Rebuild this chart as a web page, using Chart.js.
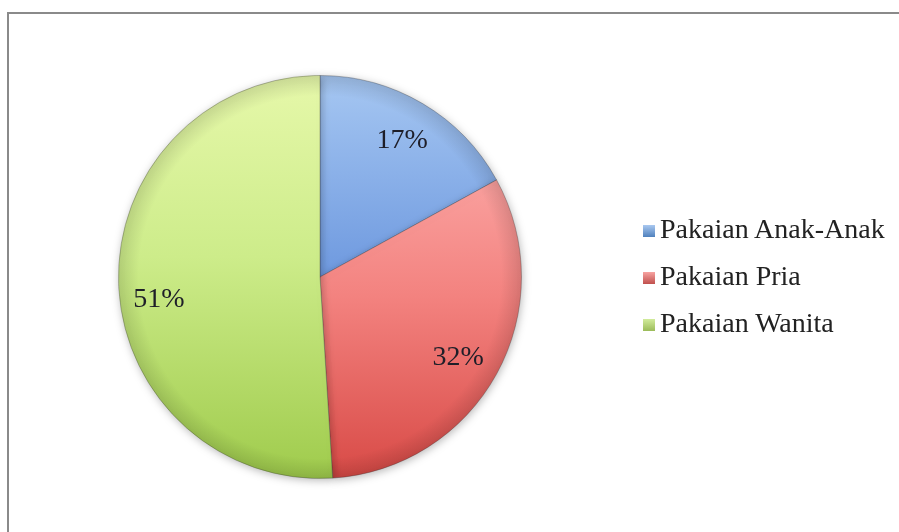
<!DOCTYPE html>
<html>
<head>
<meta charset="utf-8">
<script src="https://cdn.jsdelivr.net/npm/chart.js@4.4.0/dist/chart.umd.min.js"></script>
<style>
  html, body { margin: 0; padding: 0; background: #fff; overflow: hidden; }
  #wrap { position: relative; width: 899px; height: 532px; }
  #frame { position: absolute; left: 7px; top: 12px; width: 900px; height: 540px;
           border-top: 2px solid #8a8a8a; border-left: 2px solid #8a8a8a; }
  #chart { position: absolute; left: 0; top: 0; }
  #legend { position: absolute; left: 643px; top: 211px; font-family: "Liberation Serif", serif;
            font-size: 28px; color: #222; }
  .item { height: 47px; line-height: 36px; white-space: nowrap; }
  .box { display: inline-block; width: 12px; height: 12px; margin-right: 5px; vertical-align: 1px; }
</style>
</head>
<body>
<div id="wrap">
  <div id="frame"></div>
  <canvas id="chart" width="899" height="532"></canvas>
  <div id="legend"></div>
</div>
<script>
// Data
const labels = ["Pakaian Anak-Anak", "Pakaian Pria", "Pakaian Wanita"];
const values = [17, 32, 51];
const pctLabels = ["17%", "32%", "51%"];

// vertical gradient stops (top of pie -> bottom) for each slice
const sliceStops = [
    [[0, "#a6c7f2"], [0.5, "#6e99df"], [1, "#4a7fd0"]],
    [[0.2, "#fba6a4"], [0.55, "#f3827f"], [1, "#d84a46"]],
    [[0, "#e6f8aa"], [0.45, "#cdec8a"], [1, "#9fcb4c"]]
];
const legendColors = [["#a9c8f0", "#4f81bd"], ["#f7a3a1", "#c0504d"], ["#d2ec9c", "#9bbb59"]];
// small nudges so the percentages sit where the original put them
const labelNudge = [[0, 2], [-3, 3], [0, 18]];

function sliceFill(context) {
    const chart = context.chart;
    const area = chart.chartArea;
    const stops = sliceStops[context.dataIndex];
    if (!area) return stops[1][1];
    const g = chart.ctx.createLinearGradient(0, area.top, 0, area.bottom);
    stops.forEach(s => g.addColorStop(s[0], s[1]));
    return g;
}

// soft shadow behind the pie
const shadowPlugin = {
    id: 'pieShadow',
    beforeDatasetsDraw(chart) {
        const ctx = chart.ctx;
        ctx.save();
        ctx.shadowColor = 'rgba(0,0,0,0.28)';
        ctx.shadowBlur = 9;
        ctx.shadowOffsetX = 1;
        ctx.shadowOffsetY = 2;
    },
    afterDatasetsDraw(chart) {
        chart.ctx.restore();
    }
};

// darker rim (bevel look) and the percentage text inside each slice
const pctPlugin = {
    id: 'pctLabels',
    afterDatasetsDraw(chart) {
        const ctx = chart.ctx;
        const meta = chart.getDatasetMeta(0);
        const a0 = meta.data[0];
        ctx.save();
        const rim = ctx.createRadialGradient(a0.x, a0.y, a0.outerRadius * 0.9, a0.x, a0.y, a0.outerRadius);
        rim.addColorStop(0, 'rgba(0,0,0,0)');
        rim.addColorStop(1, 'rgba(0,0,0,0.12)');
        ctx.fillStyle = rim;
        ctx.beginPath();
        ctx.arc(a0.x, a0.y, a0.outerRadius, 0, Math.PI * 2);
        ctx.fill();

        ctx.font = '28px "Liberation Serif", serif';
        ctx.fillStyle = '#1e1e28';
        ctx.textAlign = 'center';
        ctx.textBaseline = 'middle';
        meta.data.forEach((arc, i) => {
            const mid = (arc.startAngle + arc.endAngle) / 2;
            const r = arc.outerRadius * 0.8;
            ctx.fillText(pctLabels[i], arc.x + Math.cos(mid) * r + labelNudge[i][0],
                arc.y + Math.sin(mid) * r + labelNudge[i][1]);
        });
        ctx.restore();
    }
};

new Chart(document.getElementById('chart'), {
    type: 'pie',
    data: {
        labels: labels,
        datasets: [{
            data: values,
            backgroundColor: sliceFill,
            borderColor: 'rgba(50,50,50,0.3)',
            borderWidth: 1
        }]
    },
    options: {
        responsive: false,
        animation: false,
        layout: { padding: { left: 118, top: 75, right: 377, bottom: 53 } },
        plugins: {
            legend: { display: false },
            tooltip: { enabled: false }
        }
    },
    plugins: [shadowPlugin, pctPlugin]
});

// legend on the right
const legend = document.getElementById('legend');
labels.forEach((name, i) => {
    legend.insertAdjacentHTML('beforeend',
        `<div class="item"><span class="box" style="background:linear-gradient(${legendColors[i][0]}, ${legendColors[i][1]})"></span>${name}</div>`);
});
</script>
</body>
</html>
